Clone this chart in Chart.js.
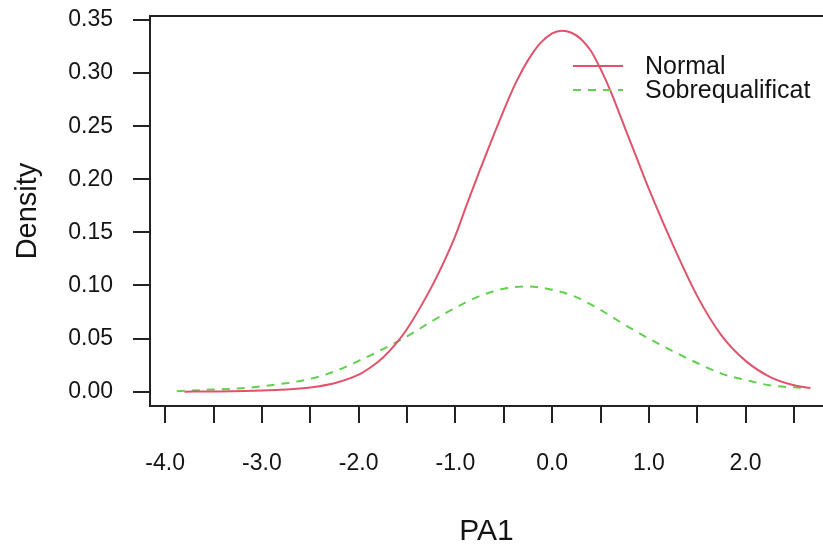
<!DOCTYPE html>
<html>
<head>
<meta charset="utf-8">
<script src="https://cdn.jsdelivr.net/npm/chart.js@4.4.1/dist/chart.umd.min.js"></script>
<style>
  html, body { margin: 0; padding: 0; background: #fff; }
  #wrap { width: 823px; height: 547px; }
</style>
</head>
<body>
<div id="wrap"><canvas id="chart" width="823" height="547"></canvas></div>
<script>
// --- DATA ---
const normalX = [-3.80, -3.50, -3.00, -2.75, -2.50, -2.25, -2.00, -1.875, -1.75, -1.625, -1.50, -1.25, -1.125, -1.00, -0.875, -0.75, -0.625, -0.50, -0.375, -0.25, -0.125, 0.00, 0.10, 0.20, 0.30, 0.40, 0.50, 0.60, 0.75, 0.90, 1.00, 1.25, 1.50, 1.75, 2.00, 2.25, 2.50, 2.67];
const normalY = [0.000, 0.0002, 0.001, 0.002, 0.004, 0.008, 0.016, 0.023, 0.032, 0.044, 0.059, 0.098, 0.121, 0.147, 0.178, 0.208, 0.237, 0.265, 0.291, 0.312, 0.328, 0.3375, 0.340, 0.338, 0.332, 0.321, 0.304, 0.284, 0.249, 0.214, 0.191, 0.138, 0.090, 0.053, 0.029, 0.014, 0.006, 0.0035];

const sobreX = [-3.88, -3.50, -3.25, -3.00, -2.75, -2.50, -2.25, -2.00, -1.75, -1.50, -1.25, -1.00, -0.75, -0.50, -0.25, 0.00, 0.25, 0.50, 0.75, 1.00, 1.25, 1.50, 1.75, 2.00, 2.25, 2.60];
const sobreY = [0.0005, 0.002, 0.003, 0.005, 0.008, 0.012, 0.019, 0.029, 0.040, 0.052, 0.066, 0.079, 0.090, 0.097, 0.099, 0.096, 0.089, 0.077, 0.063, 0.050, 0.038, 0.027, 0.017, 0.011, 0.006, 0.0035];

const seriesNames = ['Normal', 'Sobrequalificat'];

const xTicks = [-4.0, -3.5, -3.0, -2.5, -2.0, -1.5, -1.0, -0.5, 0.0, 0.5, 1.0, 1.5, 2.0, 2.5];
const xTickLabels = ['-4.0', '', '-3.0', '', '-2.0', '', '-1.0', '', '0.0', '', '1.0', '', '2.0', ''];
const yTicks = [0, 0.05, 0.10, 0.15, 0.20, 0.25, 0.30, 0.35];
const yTickLabels = ['0.00', '0.05', '0.10', '0.15', '0.20', '0.25', '0.30', '0.35'];

// --- STYLE ---
const FONT = "'Liberation Sans', Arial, sans-serif";
const TEXT = '#141414';
const AXIS = '#222';
const RED = '#DF536B';
const GREEN = '#61D04F';

const toPoints = (xs, ys) => xs.map((x, i) => ({ x, y: ys[i] }));

// R-style box (left, top, bottom) and the in-plot legend
const boxAndLegend = {
    id: 'boxAndLegend',
    afterDraw(chart) {
        const { ctx, chartArea: a } = chart;
        ctx.save();
        ctx.strokeStyle = AXIS;
        ctx.lineWidth = 2;
        ctx.setLineDash([]);
        ctx.beginPath();
        ctx.moveTo(a.right + 5, a.top);
        ctx.lineTo(a.left, a.top);
        ctx.lineTo(a.left, a.bottom);
        ctx.lineTo(a.right + 5, a.bottom);
        ctx.stroke();

        const rows = [66, 90];
        ctx.font = `25px ${FONT}`;
        ctx.textBaseline = 'middle';
        ctx.textAlign = 'left';
        chart.data.datasets.forEach((ds, i) => {
            const y = rows[i];
            ctx.strokeStyle = ds.borderColor;
            ctx.lineWidth = ds.borderWidth;
            ctx.setLineDash(ds.borderDash || []);
            ctx.beginPath();
            ctx.moveTo(573, y);
            ctx.lineTo(623, y);
            ctx.stroke();
            ctx.fillStyle = TEXT;
            ctx.fillText(ds.label, 645, y + 1);
        });
        ctx.restore();
    }
};

new Chart(document.getElementById('chart'), {
    type: 'line',
    data: {
        datasets: [
            {
                label: seriesNames[0],
                data: toPoints(normalX, normalY),
                borderColor: RED,
                borderWidth: 2,
                pointRadius: 0,
                cubicInterpolationMode: 'monotone',
                fill: false
            },
            {
                label: seriesNames[1],
                data: toPoints(sobreX, sobreY),
                borderColor: GREEN,
                borderWidth: 2,
                borderDash: [8, 7],
                pointRadius: 0,
                cubicInterpolationMode: 'monotone',
                fill: false
            }
        ]
    },
    options: {
        responsive: false,
        animation: false,
        events: [],
        layout: { padding: { top: 16, right: 0, left: 0, bottom: 0 } },
        plugins: {
            legend: { display: false },
            tooltip: { enabled: false }
        },
        scales: {
            x: {
                type: 'linear',
                min: -4.157,
                max: 2.80,
                afterBuildTicks: (scale) => { scale.ticks = xTicks.map(v => ({ value: v })); },
                afterFit: (scale) => {
                    scale.height = 141;
                    scale.paddingLeft = 0;
                    scale.paddingRight = 0;
                },
                grid: { drawOnChartArea: false, drawTicks: true, tickLength: 17, color: AXIS, lineWidth: 2 },
                border: { display: false },
                ticks: {
                    autoSkip: false,
                    maxRotation: 0,
                    padding: 27,
                    color: TEXT,
                    font: { family: FONT, size: 23 },
                    callback: (value) => {
                        const i = xTicks.indexOf(value);
                        return i >= 0 ? xTickLabels[i] : '';
                    }
                },
                title: {
                    display: true,
                    text: 'PA1',
                    color: TEXT,
                    font: { family: FONT, size: 30, lineHeight: 1 },
                    padding: { top: 0, bottom: 0 }
                }
            },
            y: {
                type: 'linear',
                min: -0.0135,
                max: 0.3538,
                afterBuildTicks: (scale) => { scale.ticks = yTicks.map(v => ({ value: v })); },
                afterFit: (scale) => {
                    scale.width = 150;
                    scale.paddingTop = 0;
                    scale.paddingBottom = 0;
                },
                grid: { drawOnChartArea: false, drawTicks: true, tickLength: 17, color: AXIS, lineWidth: 2 },
                border: { display: false },
                ticks: {
                    autoSkip: false,
                    padding: 20,
                    color: TEXT,
                    font: { family: FONT, size: 23 },
                    callback: (value) => {
                        const i = yTicks.findIndex(t => Math.abs(t - value) < 1e-9);
                        return i >= 0 ? yTickLabels[i] : '';
                    }
                },
                title: {
                    display: true,
                    text: 'Density',
                    color: TEXT,
                    font: { family: FONT, size: 29, lineHeight: 1 },
                    padding: { top: 13, bottom: 0 }
                }
            }
        }
    },
    plugins: [boxAndLegend]
});
</script>
</body>
</html>
